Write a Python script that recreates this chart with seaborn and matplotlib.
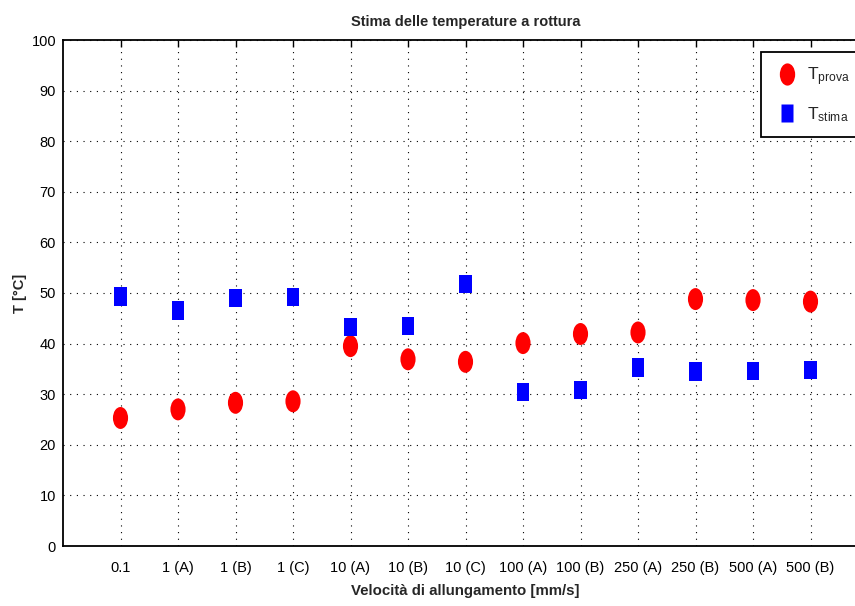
import matplotlib
matplotlib.use("Agg")
import matplotlib.pyplot as plt
from matplotlib.path import Path
from matplotlib.transforms import Affine2D
from matplotlib.lines import Line2D
import seaborn as sns
import pandas as pd

# Test categories (elongation speed) and the two temperature series
categorie = ["0.1", "1 (A)", "1 (B)", "1 (C)", "10 (A)", "10 (B)", "10 (C)",
             "100 (A)", "100 (B)", "250 (A)", "250 (B)", "500 (A)", "500 (B)"]
t_prova = [25.3, 27.0, 28.3, 28.6, 39.5, 36.9, 36.4, 40.1, 41.9, 42.2, 48.8, 48.6, 48.3]
t_stima = [49.3, 46.6, 49.0, 49.2, 43.3, 43.5, 51.8, 30.4, 30.8, 35.3, 34.5, 34.6, 34.8]
y_ticks = list(range(0, 101, 10))

sns.set_theme(style="white")
plt.rcParams["font.family"] = ["Liberation Sans", "DejaVu Sans"]
plt.rcParams["mathtext.fontset"] = "custom"
plt.rcParams["mathtext.rm"] = "Liberation Sans"
plt.rcParams["mathtext.it"] = "Liberation Sans"

df = pd.DataFrame({
    "pos": list(range(1, len(categorie) + 1)),
    "prova": t_prova,
    "stima": t_stima,
})

# Tall ellipse and tall rectangle markers
ellisse = Path.unit_circle().transformed(Affine2D().scale(1.0, 1.45))
rettangolo = Path([(-1, -1.5), (1, -1.5), (1, 1.5), (-1, 1.5), (-1, -1.5)],
                  [Path.MOVETO, Path.LINETO, Path.LINETO, Path.LINETO, Path.CLOSEPOLY])

fig = plt.figure(figsize=(8.55, 6.06), dpi=100)
ax = fig.add_axes([63 / 855, 60 / 606, 805 / 855, 506 / 606])

sns.scatterplot(data=df, x="pos", y="prova", marker=ellisse, s=250, color="#ff0000",
                edgecolor="none", linewidth=0, ax=ax, zorder=3)
sns.scatterplot(data=df, x="pos", y="stima", marker=rettangolo, s=180, color="#0000ff",
                edgecolor="none", linewidth=0, ax=ax, zorder=3)

ax.set_xlim(0, 14)
ax.set_ylim(0, 100)
ax.set_xticks(df["pos"])
ax.set_xticklabels(categorie)
ax.set_yticks(y_ticks)

ax.grid(True, color="black", linestyle=(0, (1, 5)), linewidth=0.8)
ax.tick_params(direction="in", length=5, width=1, top=True, right=True,
               labelsize=10.5, colors="black", pad=5)
ax.tick_params(axis="x", pad=11)
for sp in ax.spines.values():
    sp.set_visible(True)
    sp.set_color("black")
    sp.set_linewidth(1.3)

ax.set_title("Stima delle temperature a rottura", fontsize=10.5, fontweight="bold", pad=10)
ax.set_xlabel("Velocità di allungamento [mm/s]", fontsize=10.8, fontweight="bold")
ax.set_ylabel("T [°C]", fontsize=10.5, fontweight="bold")
ax.xaxis.set_label_coords(0.5, -(584 - 546) / 506)
ax.yaxis.set_label_coords((27 - 63) / 805, 0.5)

handles = [
    Line2D([], [], linestyle="none", marker=ellisse, markersize=16,
           markerfacecolor="#ff0000", markeredgecolor="none"),
    Line2D([], [], linestyle="none", marker=rettangolo, markersize=13,
           markerfacecolor="#0000ff", markeredgecolor="none"),
]
leg = ax.legend(handles, [r"$\mathrm{T}_{\mathrm{prova}}$", r"$\mathrm{T}_{\mathrm{stima}}$"],
                loc="upper left", bbox_to_anchor=((761 - 63) / 805, (546 - 52) / 506),
                fontsize=12.5, frameon=True, fancybox=False, framealpha=1,
                edgecolor="black", borderpad=0.75, labelspacing=1.0,
                handletextpad=0.4, handlelength=1.5, borderaxespad=0)
leg.get_frame().set_linewidth(1.3)

fig.savefig("out.png", dpi=100)
